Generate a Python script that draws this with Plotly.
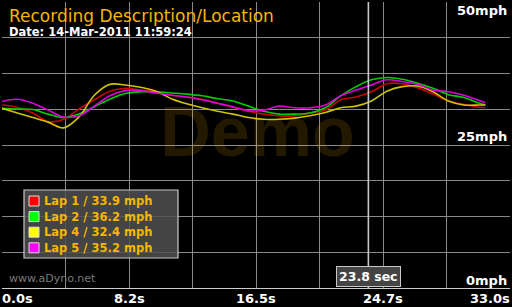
import plotly.graph_objects as go

# ---------------- data ----------------
time_s = [0, 1, 2, 3, 4, 5, 6, 7, 8, 9, 10, 11, 12, 13, 14, 15, 16, 17, 18, 19,
          20, 21, 22, 23, 24, 25, 26, 27, 28, 29, 30, 31, 31.4]

lap1 = [32.0, 31.6, 30.6, 29.1, 29.5, 31.3, 32.9, 34.4, 34.9, 34.6, 34.3, 33.7, 33.4,
        33.0, 32.3, 31.6, 30.9, 30.4, 30.1, 30.1, 30.6, 31.1, 32.9, 33.4, 34.3, 35.7,
        35.7, 35.0, 33.9, 32.7, 32.1, 31.6, 31.5]
lap2 = [31.4, 31.3, 31.2, 30.4, 29.8, 30.4, 31.7, 33.0, 34.0, 34.3, 34.3, 34.1, 33.9,
        33.6, 33.1, 32.7, 31.8, 30.9, 30.4, 30.4, 30.6, 31.5, 33.6, 35.2, 36.4, 36.8,
        36.5, 35.8, 34.9, 33.8, 33.3, 32.3, 32.0]
lap4 = [31.4, 30.6, 29.8, 29.0, 28.0, 29.9, 33.7, 35.6, 35.5, 35.1, 34.4, 33.1, 32.2,
        31.5, 30.9, 30.4, 29.8, 29.5, 29.5, 29.7, 30.1, 30.7, 31.5, 31.8, 32.7, 34.4,
        35.2, 35.3, 34.3, 32.7, 32.0, 32.0, 32.0]
lap5 = [32.6, 33.0, 32.3, 31.1, 29.9, 30.1, 31.8, 33.6, 34.5, 34.5, 34.1, 33.7, 33.4,
        32.9, 32.3, 31.7, 31.0, 31.1, 31.8, 31.5, 31.5, 32.0, 33.6, 34.6, 35.5, 36.4,
        36.1, 35.6, 34.6, 34.3, 33.7, 32.8, 32.4]

lap_names = ["Lap 1", "Lap 2", "Lap 4", "Lap 5"]
lap_values = [33.9, 36.2, 32.4, 35.2]
lap_series = [lap1, lap2, lap4, lap5]
line_colors = ["#c80000", "#00cc00", "#cdc300", "#dd00dd"]
key_colors = ["#ff0000", "#00ff00", "#ffff00", "#ff00ff"]

x_tick_vals = [0, 8.25, 16.5, 24.75, 33.0]
x_tick_text = ["0.0s", "8.2s", "16.5s", "24.7s", "33.0s"]
y_label_vals = [50, 25, 0]
y_label_text = ["50mph", "25mph", "0mph"]

cursor_time = 23.8
title_text = "Recording Description/Location"
date_text = "Date: 14-Mar-2011 11:59:24"

# ---------------- layout helpers ----------------
W, H = 512, 307
ML, MR, MT, MB = 2, 2, 2, 19
PW, PH = W - ML - MR, H - MT - MB


def px(xp):
    return (xp - ML) / PW


def py(yp):
    return (H - MB - yp) / PH


ORANGE = "#f7b500"
FONT = "DejaVu Sans"

fig = go.Figure()

# watermark (below the lines)
fig.add_trace(go.Scatter(
    x=[16.6], y=[26.2], mode="text", text=["<b>Demo</b>"], hoverinfo="skip",
    textfont=dict(family="Liberation Sans", size=70, color="rgba(245,180,0,0.14)"),
    showlegend=False, textposition="middle center"))

for name, ys, col in zip(lap_names, lap_series, line_colors):
    fig.add_trace(go.Scatter(
        x=time_s, y=ys, mode="lines", name=name,
        line=dict(color=col, width=1.6, shape="spline", smoothing=1.0),
        showlegend=False))

shapes = []
annotations = []

# cursor line
shapes.append(dict(type="line", xref="x", yref="paper", x0=cursor_time, x1=cursor_time,
                   y0=0, y1=1, line=dict(color="#c8c8c8", width=1.6)))

# legend box
shapes.append(dict(type="rect", xref="paper", yref="paper",
                   x0=px(24), x1=px(178), y0=py(258), y1=py(190),
                   fillcolor="rgba(80,80,80,0.85)", line=dict(color="#c8c8c8", width=1.2)))
row_y = [201, 216.6, 232.2, 247.8]
for ry, kc, nm, val in zip(row_y, key_colors, lap_names, lap_values):
    shapes.append(dict(type="rect", xref="paper", yref="paper",
                       x0=px(29), x1=px(39), y0=py(ry + 5), y1=py(ry - 5),
                       fillcolor=kc, line=dict(color="#dddddd", width=1)))
    annotations.append(dict(xref="paper", yref="paper", x=px(42), y=py(ry),
                            xanchor="left", yanchor="middle", showarrow=False,
                            text=f"<b>{nm} / {val} mph</b>",
                            font=dict(family=FONT, size=11.5, color=ORANGE)))

# title + date
annotations.append(dict(xref="paper", yref="paper", x=px(7), y=py(16), xanchor="left",
                        yanchor="middle", showarrow=False, text=title_text,
                        font=dict(family=FONT, size=17, color=ORANGE)))
annotations.append(dict(xref="paper", yref="paper", x=px(7), y=py(32), xanchor="left",
                        yanchor="middle", showarrow=False, text="<b>" + date_text + "</b>",
                        font=dict(family=FONT, size=11.5, color="white")))

# y labels (inside, right)
y_label_py = [11, 137, 280]
for v, t, yy in zip(y_label_vals, y_label_text, y_label_py):
    annotations.append(dict(xref="paper", yref="paper", x=px(509), y=py(yy),
                            xanchor="right", yanchor="middle", showarrow=False,
                            text="<b>" + t + "</b>",
                            font=dict(family=FONT, size=13, color="white")))

# x labels
anchors = ["left", "center", "center", "center", "right"]
shifts = [-2, 0, 0, 0, 2]
for v, t, a, s in zip(x_tick_vals, x_tick_text, anchors, shifts):
    annotations.append(dict(xref="x", yref="paper", x=v, y=0, xanchor=a, yanchor="top",
                            xshift=s, yshift=-1, showarrow=False, text="<b>" + t + "</b>",
                            font=dict(family=FONT, size=13, color="white")))

# cursor label
annotations.append(dict(xref="x", yref="paper", x=cursor_time, y=0, xanchor="center",
                        yanchor="bottom", yshift=1, showarrow=False,
                        text="<b>" + f"{cursor_time} sec" + "</b>",
                        bgcolor="#444444", bordercolor="#c8c8c8", borderwidth=1, borderpad=2,
                        font=dict(family=FONT, size=12.5, color="white")))

# site credit
annotations.append(dict(xref="paper", yref="paper", x=px(7), y=py(278), xanchor="left",
                        yanchor="middle", showarrow=False, text="www.aDyno.net",
                        font=dict(family=FONT, size=11, color="#7a7a7a")))

fig.update_layout(
    width=W, height=H, margin=dict(l=ML, r=MR, t=MT, b=MB, pad=0),
    paper_bgcolor="black", plot_bgcolor="black",
    shapes=shapes, annotations=annotations, showlegend=False,
    xaxis=dict(range=[0, 33], dtick=4.125, tick0=0, showgrid=True, gridcolor="#8a8a8a",
               gridwidth=1, showticklabels=False, zeroline=False, ticks="",
               showline=True, linecolor="#cccccc", linewidth=1, fixedrange=True),
    yaxis=dict(range=[0, 50], dtick=6.25, tick0=0, showgrid=True, gridcolor="#8a8a8a",
               gridwidth=1, showticklabels=False, zeroline=False, ticks="",
               showline=False, fixedrange=True),
)

fig.write_html("out.html", config=dict(displayModeBar=False))
